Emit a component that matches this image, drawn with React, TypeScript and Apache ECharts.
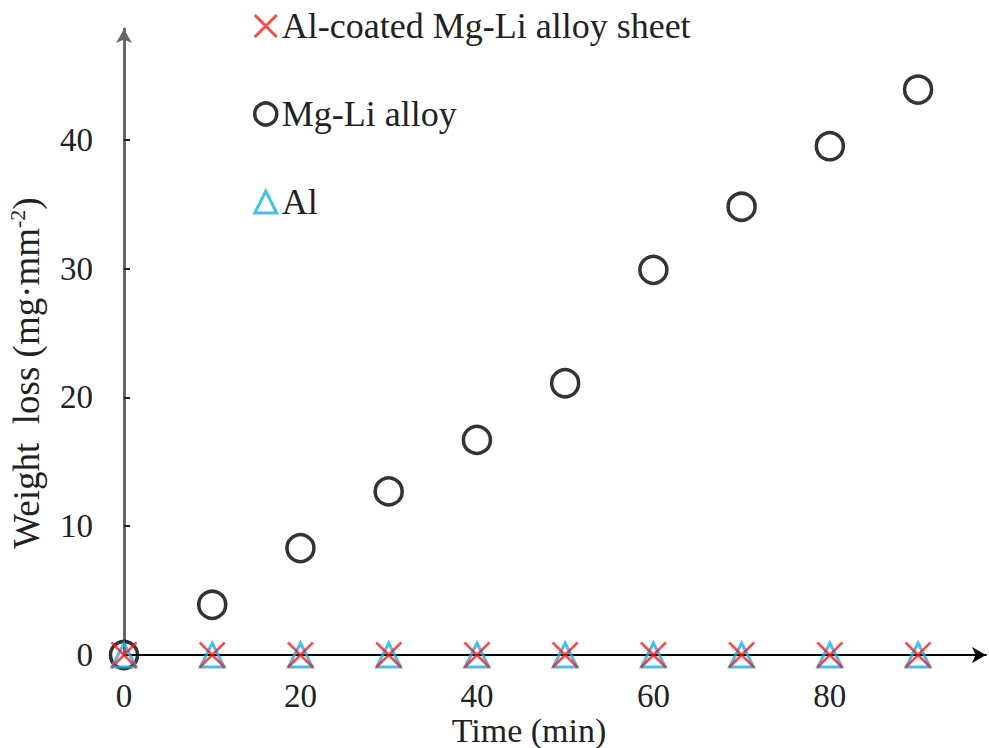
import React, { useEffect, useRef } from "react";
import * as echarts from "echarts";

const timeValues = [0, 10, 20, 30, 40, 50, 60, 70, 80, 90];
const alCoatedLoss = [0, 0, 0, 0, 0, 0, 0, 0, 0, 0];
const mgLiLoss = [0, 3.9, 8.3, 12.7, 16.7, 21.1, 29.9, 34.8, 39.5, 43.9];
const alLoss = [0, 0, 0, 0, 0, 0, 0, 0, 0, 0];
const xTickLabels = [0, 20, 40, 60, 80];
const yTickLabels = [0, 10, 20, 30, 40];
const seriesNames = ["Al-coated Mg-Li alloy sheet", "Mg-Li alloy", "Al"];

const FONT = "'Liberation Serif', 'Times New Roman', serif";
const CROSS = "path://M0,0L10,10M10,0L0,10";

export default function App() {
  const ref = useRef<HTMLDivElement>(null);
  useEffect(() => {
    if (!ref.current) return;
    const chart = echarts.init(ref.current, null, { renderer: "svg" });
    const pair = (ys: number[]) => timeValues.map((t, i) => [t, ys[i]]);
    chart.setOption({
      animation: false,
      backgroundColor: "#fff",
      grid: { left: 124, right: 3, top: 29, bottom: 93, containLabel: false, outerBoundsMode: "none" },
      legend: {
        orient: "vertical",
        left: 248,
        top: 1,
        itemWidth: 22,
        itemHeight: 22,
        itemGap: 48,
        textStyle: { fontFamily: FONT, fontSize: 36, color: "#222", lineHeight: 40 },
        data: [
          {
            name: seriesNames[0],
            icon: CROSS,
            itemStyle: { color: "rgba(0,0,0,0)", borderColor: "#ff1a1a", borderWidth: 3 },
          },
          {
            name: seriesNames[1],
            icon: "circle",
            itemStyle: { color: "rgba(0,0,0,0)", borderColor: "#000", borderWidth: 3.5 },
          },
          {
            name: seriesNames[2],
            icon: "triangle",
            itemStyle: { color: "rgba(0,0,0,0)", borderColor: "#14b0ea", borderWidth: 3 },
          },
        ],
      },
      xAxis: {
        type: "value",
        min: 0,
        max: 97.7,
        name: "Time (min)",
        nameLocation: "middle",
        nameGap: 58,
        nameMoveOverlap: false,
        nameTextStyle: { fontFamily: FONT, fontSize: 34, color: "#222", padding: [0, 52, 0, 0] },
        axisLine: {
          show: true,
          onZero: false,
          symbol: ["none", "arrow"],
          symbolSize: [12, 14],
          lineStyle: { color: "#000", width: 2 },
        },
        axisTick: { show: false },
        axisLabel: {
          customValues: xTickLabels,
          margin: 24,
          fontFamily: FONT,
          fontSize: 33,
          color: "#222",
        },
        splitLine: { show: false },
      },
      yAxis: {
        type: "value",
        min: 0,
        max: 48.6,
        name: "Weight  loss (mg·mm{sup|-2})",
        nameLocation: "middle",
        nameGap: 78,
        nameRotate: 90,
        nameMoveOverlap: false,
        nameTextStyle: {
          fontFamily: FONT,
          fontSize: 37,
          color: "#222",
          lineHeight: 40,
          padding: [0, 62, 0, 0],
          rich: {
            sup: { fontFamily: FONT, fontSize: 22, color: "#222", lineHeight: 20, verticalAlign: "top" },
          },
        },
        axisLine: {
          show: true,
          onZero: false,
          symbol: ["none", "arrow"],
          symbolSize: [12, 14],
          lineStyle: { color: "#666", width: 3 },
        },
        axisTick: {
          show: true,
          inside: true,
          length: 6,
          customValues: yTickLabels,
          lineStyle: { color: "#222", width: 2 },
        },
        axisLabel: {
          customValues: yTickLabels,
          margin: 31,
          fontFamily: FONT,
          fontSize: 33,
          color: "#222",
        },
        splitLine: { show: false },
      },
      series: [
        {
          name: seriesNames[1],
          type: "scatter",
          data: pair(mgLiLoss),
          symbol: "circle",
          symbolSize: 27,
          itemStyle: { color: "rgba(0,0,0,0)", borderColor: "#000", borderWidth: 3.5 },
          z: 2,
        },
        {
          name: seriesNames[2],
          type: "scatter",
          data: pair(alLoss),
          symbol: "triangle",
          symbolSize: 24,
          itemStyle: { color: "rgba(0,0,0,0)", borderColor: "#14b0ea", borderWidth: 3 },
          z: 3,
        },
        {
          name: seriesNames[0],
          type: "scatter",
          data: pair(alCoatedLoss),
          symbol: CROSS,
          symbolSize: 25,
          itemStyle: { color: "rgba(0,0,0,0)", borderColor: "#ff1a1a", borderWidth: 2.5 },
          z: 4,
        },
      ],
    });
    return () => chart.dispose();
  }, []);
  return <div ref={ref} style={{ width: 989, height: 748, position: "absolute", left: 0, top: 0 }} />;
}
